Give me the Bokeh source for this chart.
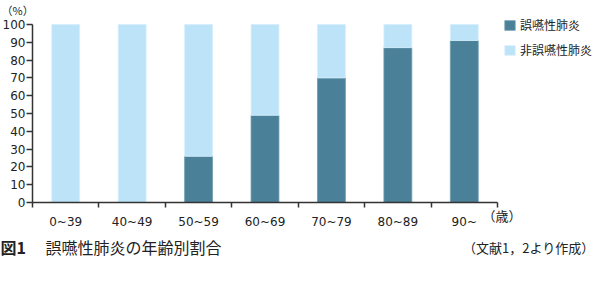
from bokeh.plotting import figure
from bokeh.models import Range1d, FixedTicker, Legend, LegendItem, Label, ColumnDataSource, LinearAxis
from bokeh.embed import file_html
from bokeh.resources import INLINE

# data
age_groups = ["0~39", "40~49", "50~59", "60~69", "70~79", "80~89", "90~"]
aspiration = [0, 0, 26, 49, 70, 87, 91]
non_aspiration = [100, 100, 74, 51, 30, 13, 9]
y_ticks = [0, 10, 20, 30, 40, 50, 60, 70, 80, 90, 100]
series_names = ["誤嚥性肺炎", "非誤嚥性肺炎"]
title_text = "誤嚥性肺炎の年齢別割合"
source_text = "（文献1，2より作成）"

DARK = "#4a8198"
LIGHT = "#bde3f8"
AX = "#333333"
NUM_FONT = "DejaVu Sans"
JP_FONT = "Noto Sans CJK JP"

W, H = 595, 287
# plot area in canvas pixels (left, right, top, bottom)
PL, PR, PT, PB = 32, 497, 24, 202
n = len(age_groups)
ux = (PR - PL) / n
uy = (PB - PT) / 100.0

xs = [i + 0.5 for i in range(n)]
src = ColumnDataSource(dict(x=xs, asp=aspiration, non=non_aspiration))

p = figure(width=W, height=H, min_border=0,
           x_axis_location=None, y_axis_location=None,
           x_range=Range1d(-PL / ux, n + (W - PR) / ux),
           y_range=Range1d(-(H - PB) / uy, 100 + PT / uy),
           output_backend="svg", toolbar_location=None,
           background_fill_color="white", border_fill_color="white")
p.outline_line_color = None
p.grid.visible = False

rs = p.vbar_stack(["asp", "non"], x="x", width=0.42, source=src,
                  fill_color=[DARK, LIGHT], line_color=["#6d9cb0", "#d6effc"], line_width=0.8)

# x axis: boundary ticks (minor), labels at centres
xa = LinearAxis(fixed_location=0, bounds=(0, n))
xa.ticker = FixedTicker(ticks=xs, minor_ticks=list(range(n + 1)))
xa.major_label_overrides = {x: lab for x, lab in zip(xs, age_groups)}
xa.major_tick_out = 0
xa.major_tick_in = 0
xa.minor_tick_out = 5
xa.minor_tick_in = 0
xa.minor_tick_line_color = AX
xa.minor_tick_line_width = 1.5
xa.axis_line_color = AX
xa.axis_line_width = 1.5
xa.major_label_standoff = 7
xa.major_label_text_font = NUM_FONT
xa.major_label_text_font_size = "12px"
xa.major_label_text_color = "#222222"
p.add_layout(xa, "below")

ya = LinearAxis(fixed_location=0, bounds=(0, 100))
ya.ticker = FixedTicker(ticks=y_ticks, minor_ticks=[])
ya.major_tick_out = 6
ya.major_tick_in = 0
ya.major_tick_line_color = AX
ya.major_tick_line_width = 1.5
ya.axis_line_color = AX
ya.axis_line_width = 1.5
ya.major_label_standoff = 1
ya.major_label_text_font = NUM_FONT
ya.major_label_text_font_size = "12px"
ya.major_label_text_color = "#222222"
p.add_layout(ya, "left")

legend = Legend(items=[LegendItem(label=series_names[0], renderers=[rs[0]]),
                       LegendItem(label=series_names[1], renderers=[rs[1]])],
                location=(503, H - 58), orientation="vertical",
                padding=0, margin=0, spacing=8, border_line_color=None,
                background_fill_alpha=0, glyph_width=13, glyph_height=12,
                label_height=12, label_standoff=4,
                label_text_font=JP_FONT, label_text_font_size="12px",
                label_text_color="#222222")
p.add_layout(legend)

def lab(text, x, y, size, align="left", bold=False, font=JP_FONT):
    # x, y given as canvas pixels from the top-left corner
    p.add_layout(Label(text=text, x=x, y=H - y, x_units="screen", y_units="screen",
                       text_font=font, text_font_size=size, text_align=align,
                       text_baseline="middle", text_color="#222222",
                       text_font_style="bold" if bold else "normal"))

lab("（%）", 1, 9, "11px")
lab("（歳）", 482, 215, "13px")
lab("図1", 0, 246, "16px", bold=True)
lab(title_text, 45, 246, "16px")
lab(source_text, 594, 247, "13px", align="right")

open("out.html", "w").write(file_html(p, INLINE))
